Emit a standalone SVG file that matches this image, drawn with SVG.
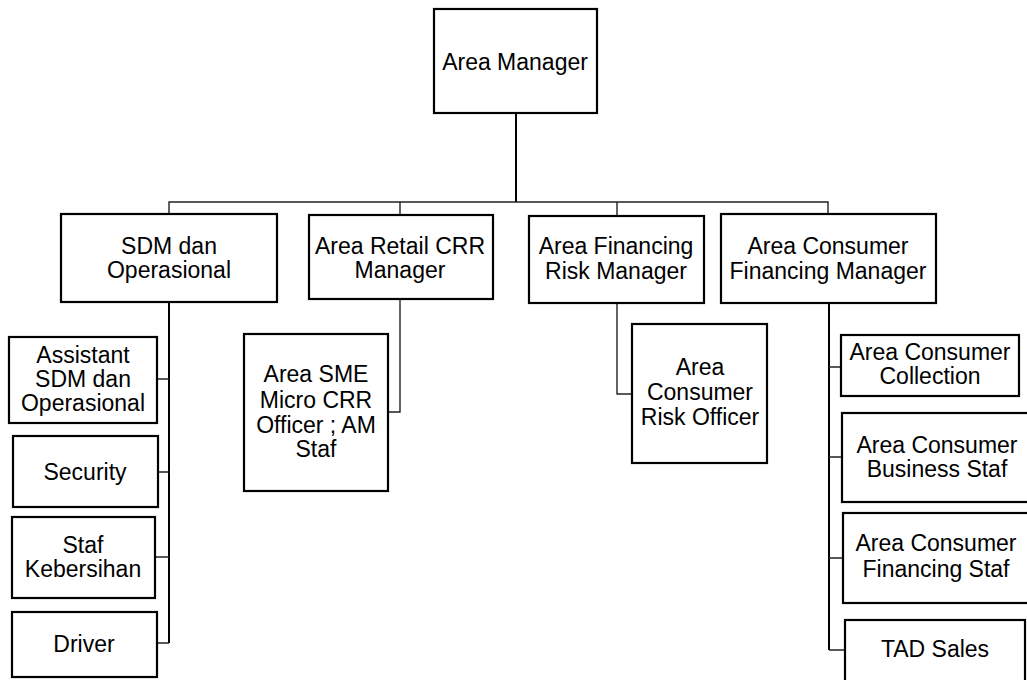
<svg xmlns="http://www.w3.org/2000/svg" width="1027" height="680" viewBox="0 0 1027 680">
<style>
.box{fill:#fff;stroke:#000;stroke-width:2.2}
.t{font-family:"Liberation Sans",Arial,sans-serif;font-size:23px;fill:#000;text-anchor:middle}
.c{fill:none;stroke:#222;stroke-width:1.4}
.cs{fill:none;stroke:#000;stroke-width:2}
</style>
<rect width="1027" height="680" fill="#fff"/>
<g id="connectors">
<path class="cs" d="M516,113 V202"/>
<path class="c" d="M169,213 V202 H828 V214"/>
<path class="c" d="M400,202 V215 M617,202 V216"/>
<path class="cs" d="M169,302 V643"/>
<path class="c" d="M157,379 H169 M158,472 H169 M155,557 H169 M157,643 H169"/>
<path class="c" d="M400,299 V412 H388"/>
<path class="c" d="M617,303 V394 H632"/>
<path class="cs" d="M829,303 V650"/>
<path class="c" d="M829,367 H841 M829,457 H842 M829,558 H843 M829,650 H845"/>
</g>
<g id="n-area-manager"><rect class="box" x="434" y="9" width="163" height="104"/><text class="t" x="515" y="70">Area Manager</text></g>
<g id="n-sdm"><rect class="box" x="61" y="214" width="216" height="88"/><text class="t" x="169" y="254">SDM dan</text><text class="t" x="169" y="278">Operasional</text></g>
<g id="n-retail"><rect class="box" x="309" y="215" width="184" height="84"/><text class="t" x="400" y="254">Area Retail CRR</text><text class="t" x="400" y="278">Manager</text></g>
<g id="n-finrisk"><rect class="box" x="529" y="216" width="175" height="87"/><text class="t" x="616" y="254">Area Financing</text><text class="t" x="616" y="279">Risk Manager</text></g>
<g id="n-consfin"><rect class="box" x="721" y="214" width="215" height="89"/><text class="t" x="828" y="254">Area Consumer</text><text class="t" x="828" y="279">Financing Manager</text></g>
<g id="n-assistant"><rect class="box" x="9" y="337" width="148" height="86"/><text class="t" x="83" y="363">Assistant</text><text class="t" x="83" y="387">SDM dan</text><text class="t" x="83" y="411">Operasional</text></g>
<g id="n-security"><rect class="box" x="13" y="436" width="145" height="71"/><text class="t" x="85" y="480">Security</text></g>
<g id="n-staf-kebersihan"><rect class="box" x="12" y="517" width="143" height="81"/><text class="t" x="83" y="553">Staf</text><text class="t" x="83" y="577">Kebersihan</text></g>
<g id="n-driver"><rect class="box" x="12" y="612" width="145" height="65"/><text class="t" x="84" y="652">Driver</text></g>
<g id="n-sme"><rect class="box" x="244" y="334" width="144" height="157"/><text class="t" x="316" y="382">Area SME</text><text class="t" x="316" y="408">Micro CRR</text><text class="t" x="316" y="433">Officer ; AM</text><text class="t" x="316" y="457">Staf</text></g>
<g id="n-riskofficer"><rect class="box" x="632" y="324" width="135" height="139"/><text class="t" x="700" y="375">Area</text><text class="t" x="700" y="400">Consumer</text><text class="t" x="700" y="425">Risk Officer</text></g>
<g id="n-collection"><rect class="box" x="841" y="335" width="178" height="61"/><text class="t" x="930" y="360">Area Consumer</text><text class="t" x="930" y="384">Collection</text></g>
<g id="n-business"><rect class="box" x="842" y="413" width="190" height="89"/><text class="t" x="937" y="453">Area Consumer</text><text class="t" x="937" y="477">Business Staf</text></g>
<g id="n-financing-staf"><rect class="box" x="843" y="513" width="190" height="90"/><text class="t" x="936" y="551">Area Consumer</text><text class="t" x="936" y="577">Financing Staf</text></g>
<g id="n-tad"><rect class="box" x="845" y="620" width="180" height="70"/><text class="t" x="935" y="657">TAD Sales</text></g>
</svg>
